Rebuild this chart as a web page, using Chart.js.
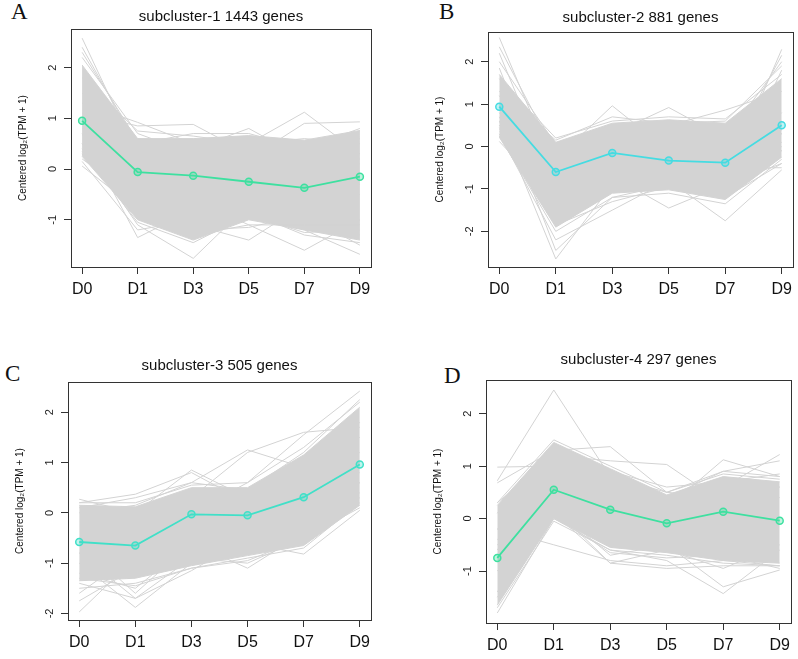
<!DOCTYPE html>
<html>
<head>
<meta charset="utf-8">
<script src="https://cdn.jsdelivr.net/npm/chart.js@4.4.1/dist/chart.umd.min.js"></script>
<style>
  body { margin: 0; background: #fff; width: 798px; height: 659px; position: relative; overflow: hidden; }
  canvas { position: absolute; }
  .tag { position: absolute; font-family: "Liberation Serif", "Times New Roman", serif; font-size: 23px; line-height: 22px; color: #111; }
</style>
</head>
<body>
<div class="tag" style="left:11px;top:1px">A</div>
<div class="tag" style="left:439px;top:1px">B</div>
<div class="tag" style="left:5px;top:363px">C</div>
<div class="tag" style="left:444px;top:365px">D</div>
<canvas id="cA"></canvas>
<canvas id="cB"></canvas>
<canvas id="cC"></canvas>
<canvas id="cD"></canvas>
<script>
// time points
const days = ['D0', 'D1', 'D3', 'D5', 'D7', 'D9'];
const titles = ['subcluster-1 1443 genes', 'subcluster-2 881 genes', 'subcluster-3 505 genes', 'subcluster-4 297 genes'];

// subcluster-1
const meanA = [0.95, -0.06, -0.13, -0.25, -0.37, -0.15];
const bandHiA = [2.05, 0.6, 0.6, 0.66, 0.57, 0.76];
const bandLoA = [0.25, -1.0, -1.4, -1.0, -1.2, -1.4];
const linesA = [
  [2.58, 0.25, -0.2, -0.4, -0.5, -0.3],
  [2.4, 0.45, 0.1, -0.1, -0.6, -0.5],
  [2.2, 0.7, 0.3, 0.2, 0.0, 0.2],
  [2.3, 0.55, 0.3, 0.6, 0.55, 0.6],
  [1.8, 0.75, 0.65, 0.5, 0.6, 0.5],
  [1.5, 0.5, 0.7, 0.7, 0.4, 0.8],
  [1.3, 0.92, 0.5, 0.3, 0.2, 0.1],
  [1.1, 0.85, 0.88, 0.3, 0.0, -0.3],
  [1.0, 0.6, 0.4, 0.8, 0.2, -0.2],
  [0.9, 0.4, 0.2, 0.5, 1.12, 0.3],
  [0.8, 0.3, 0.1, 0.2, 0.9, 0.93],
  [0.7, -1.35, -0.8, -0.9, -0.6, -1.0],
  [0.5, -1.1, -1.76, -0.7, -1.1, -1.3],
  [0.4, -0.7, -1.1, -1.4, -0.7, -1.1],
  [0.3, -0.9, -0.6, -1.1, -1.6, -1.0],
  [0.06, -0.8, -1.3, -1.1, -1.1, -1.1],
  [0.2, -0.6, -1.0, -0.8, -1.2, -1.68],
  [0.35, -1.05, -1.45, -0.9, -1.25, -1.2],
  [0.5, -0.95, -1.2, -1.15, -0.9, -1.5],
  [0.15, -1.2, -1.0, -0.85, -1.3, -1.45]
];

// subcluster-2
const meanB = [0.94, -0.6, -0.15, -0.33, -0.38, 0.5];
const bandHiB = [1.7, 0.1, 0.55, 0.63, 0.55, 1.6];
const bandLoB = [0.22, -1.9, -1.1, -1.02, -1.25, -0.25];
const linesB = [
  [2.57, -0.6, 0.2, -0.3, -0.5, 0.3],
  [2.35, -0.2, -0.5, -0.4, -0.8, 0.1],
  [2.2, -1.0, -0.2, 0.0, -0.3, 0.6],
  [2.0, 0.05, -0.6, -0.5, -0.2, 0.4],
  [1.85, -1.5, -0.8, -0.7, -0.9, -0.1],
  [1.6, 0.2, 0.6, 0.7, 0.65, 1.7],
  [1.3, 0.15, 0.7, 0.55, 0.6, 1.9],
  [0.6, -2.65, -0.9, -0.5, -1.0, 0.4],
  [1.0, -2.45, -1.2, -0.9, -0.6, 0.8],
  [0.3, -2.2, -1.5, -0.8, -1.1, 0.0],
  [0.25, -2.0, -1.2, -1.1, -1.35, -0.3],
  [0.45, -1.85, -1.3, -0.95, -1.2, -0.4],
  [0.35, -0.3, 0.96, -0.1, 0.4, 0.3],
  [0.5, -0.2, 0.3, 0.92, 0.2, -0.1],
  [0.4, -0.4, 0.1, 0.5, 0.86, 1.3],
  [0.5, -1.2, -0.7, -1.45, -0.9, -0.4],
  [0.7, -1.6, -1.0, -0.8, -1.75, -0.55],
  [0.9, -0.9, -0.5, -0.6, -0.8, 2.29],
  [0.6, -0.5, -0.3, -0.2, -0.3, 2.15],
  [1.2, -0.7, 0.0, 0.1, 0.2, 2.0],
  [0.8, -1.1, -0.4, -0.5, -1.0, 1.8],
  [0.12, -1.3, -0.6, -0.9, -0.5, -0.5]
];

// subcluster-3
const meanC = [-0.58, -0.65, -0.03, -0.05, 0.31, 0.96];
const bandHiC = [0.15, 0.12, 0.5, 0.5, 1.15, 2.1];
const bandLoC = [-1.35, -1.3, -1.05, -0.85, -0.65, 0.15];
const linesC = [
  [0.27, 0.0, 0.85, 0.3, 0.5, 1.8],
  [0.2, 0.37, 0.8, 0.2, 0.2, 1.2],
  [0.2, 0.2, 0.55, 0.6, 1.3, 2.2],
  [0.0, 0.15, 0.6, 0.45, 1.2, 2.25],
  [0.1, 0.3, 0.6, 1.25, 0.9, 1.5],
  [-0.5, -0.3, 0.3, 1.2, 1.6, 1.7],
  [-0.8, -0.5, 0.0, 0.6, 1.55, 2.42],
  [-1.97, -0.9, -0.5, -0.2, 0.2, 1.0],
  [-1.75, -1.1, -0.8, -0.4, 0.1, 0.9],
  [-1.6, -0.8, -0.3, -0.6, 0.0, 0.6],
  [-1.5, -1.4, -1.1, -0.9, -0.7, 0.2],
  [-1.0, -1.88, -1.0, -0.6, 0.0, 0.8],
  [-0.8, -1.7, -1.15, -0.5, -0.3, 0.6],
  [-0.6, -1.6, -0.6, -1.1, -0.4, 0.3],
  [-1.2, -1.5, -0.6, -0.6, -0.82, 0.05],
  [-1.4, -1.7, -0.9, -1.0, -0.5, 0.4],
  [-1.3, -1.45, -1.1, -0.95, -0.5, 0.1]
];

// subcluster-4
const meanD = [-0.75, 0.55, 0.17, -0.09, 0.13, -0.04];
const bandHiD = [0.25, 1.45, 0.95, 0.45, 0.8, 0.7];
const bandLoD = [-1.65, 0.0, -0.55, -0.65, -0.8, -0.85];
const linesD = [
  [0.98, 1.0, 0.6, 0.3, 0.2, 0.4],
  [0.72, 2.45, 0.8, 0.5, 0.4, 0.6],
  [0.68, 1.3, 1.37, 0.5, 0.9, 0.8],
  [0.3, 1.5, 1.0, 0.5, 0.85, 0.75],
  [0.1, 1.4, 0.9, 0.6, 0.7, 0.85],
  [0.3, 1.2, 1.1, 1.03, 0.3, 0.6],
  [-0.2, 0.8, 0.5, 0.2, 1.12, 0.8],
  [-0.4, 0.6, 0.3, 0.0, 0.6, 1.22],
  [-0.6, 1.0, 0.7, 0.4, 0.9, 1.1],
  [-1.8, 0.0, -0.6, -0.8, -1.43, -0.6],
  [-1.7, -0.05, -0.6, -0.7, -0.85, -0.9],
  [-1.5, 0.05, -0.65, -0.75, -0.7, -0.95],
  [-1.4, 0.2, -0.85, -0.95, -0.9, -0.9],
  [-1.0, 0.2, -0.7, -0.5, -1.3, -0.98],
  [-0.2, -0.5, -0.8, -0.9, -0.8, -0.9],
  [-0.5, 0.1, -0.85, -0.6, -0.95, -0.5]
];

const FONT = '"Liberation Sans", Arial, Helvetica, sans-serif';
const GRAY = '#d3d3d3';
const AXIS = '#333';

// plot box in page px [left, top, right, bottom], title centre y
const panels = [
  { id: 'cA', title: titles[0], mean: meanA, hi: bandHiA, lo: bandLoA, lines: linesA, color: '#3ee0a0', yMin: -1.93, yMax: 2.76, box: [71, 29, 371, 267], titleY: 17 },
  { id: 'cB', title: titles[1], mean: meanB, hi: bandHiB, lo: bandLoB, lines: linesB, color: '#45dce2', yMin: -2.84, yMax: 2.70, box: [488, 32, 793, 267], titleY: 18 },
  { id: 'cC', title: titles[2], mean: meanC, hi: bandHiC, lo: bandLoC, lines: linesC, color: '#40e0c8', yMin: -2.13, yMax: 2.60, box: [68, 382, 371, 620], titleY: 366 },
  { id: 'cD', title: titles[3], mean: meanD, hi: bandHiD, lo: bandLoD, lines: linesD, color: '#3ee0a0', yMin: -1.99, yMax: 2.64, box: [486, 380, 791, 623], titleY: 360 }
];

// R style: full box round the plot + y labels written along the axis
const boxPlugin = {
  id: 'box',
  afterDatasetsDraw(chart) {
    const { ctx, chartArea: a } = chart;
    ctx.save();
    ctx.strokeStyle = AXIS;
    ctx.lineWidth = 1;
    ctx.strokeRect(a.left + 0.5, a.top + 0.5, a.right - a.left, a.bottom - a.top);
    ctx.restore();
  },
  afterDraw(chart) {
    const { ctx, chartArea: a, scales: { y } } = chart;
    ctx.save();
    ctx.fillStyle = '#222';
    ctx.font = '11px ' + FONT;
    ctx.textAlign = 'center';
    ctx.textBaseline = 'middle';
    y.ticks.forEach(t => {
      ctx.save();
      ctx.translate(a.left - 18, y.getPixelForValue(t.value));
      ctx.rotate(-Math.PI / 2);
      ctx.fillText(String(t.value), 0, 0);
      ctx.restore();
    });
    ctx.restore();
  }
};

const xy = vals => vals.map((y, i) => ({ x: i, y }));

function build(p) {
  const [l, t, r, b] = p.box;
  const top = p.titleY - 12;
  const cv = document.getElementById(p.id);
  cv.width = r - l + 68;
  cv.height = b - top + 45;
  cv.style.left = (l - 60) + 'px';
  cv.style.top = top + 'px';

  const grayLine = vals => ({ data: xy(vals), borderColor: GRAY, borderWidth: 1, pointRadius: 0, fill: false, order: 1 });

  const datasets = [
    {
      data: xy(p.mean), borderColor: p.color, borderWidth: 1.8,
      pointRadius: 3.5, pointBorderWidth: 1.5, pointBorderColor: p.color,
      pointBackgroundColor: p.color + '55', fill: false, order: 0
    },
    { data: xy(p.hi), borderColor: GRAY, backgroundColor: GRAY, borderWidth: 1, pointRadius: 0, fill: '+1', order: 2 },
    { data: xy(p.lo), borderColor: GRAY, borderWidth: 1, pointRadius: 0, fill: false, order: 2 },
    ...p.lines.map(grayLine)
  ];

  new Chart(cv, {
    type: 'line',
    data: { datasets },
    options: {
      responsive: false,
      animation: false,
      layout: { padding: { left: 0, right: 8, top: 0, bottom: 0 } },
      plugins: {
        legend: { display: false },
        tooltip: { enabled: false },
        title: {
          display: true, text: p.title, fullSize: false, color: '#111',
          font: { family: FONT, size: 15, weight: 'normal', lineHeight: 1.2 },
          padding: { top: 3, bottom: t - top - 21 }
        }
      },
      scales: {
        x: {
          type: 'linear', min: -0.2, max: 5.2,
          afterFit(s) { s.height = 45; },
          border: { display: false },
          grid: { drawOnChartArea: false, drawTicks: true, tickLength: 7, color: AXIS },
          ticks: {
            stepSize: 1, includeBounds: false, autoSkip: false, maxRotation: 0,
            padding: 6, color: '#111', font: { family: FONT, size: 16 },
            callback: v => days[v]
          }
        },
        y: {
          min: p.yMin, max: p.yMax,
          afterFit(s) { s.width = 60; },
          border: { display: false },
          grid: { drawOnChartArea: false, drawTicks: true, tickLength: 7, color: AXIS },
          ticks: { stepSize: 1, includeBounds: false, display: false },
          title: {
            display: true, text: 'Centered log\u2082(TPM + 1)', color: '#111',
            font: { family: FONT, size: 10 }, padding: { top: 6.5, bottom: 0 }
          }
        }
      }
    },
    plugins: [boxPlugin]
  });
}

panels.forEach(build);
</script>
</body>
</html>
